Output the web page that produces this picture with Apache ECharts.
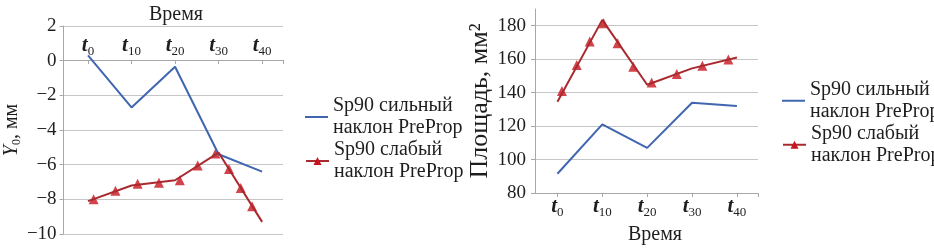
<!DOCTYPE html>
<html><head><meta charset="utf-8">
<script src="https://cdn.jsdelivr.net/npm/echarts@6/dist/echarts.min.js"></script>
<style>html,body{margin:0;padding:0;background:#fff}#c{width:934px;height:251px}</style>
</head><body><div id="c"></div>
<script>
// ---- data ----
const tickTimes = [0, 10, 20, 30, 40];
const tickLabels = ['0', '10', '20', '30', '40'];
const leftStrong = [0.3, -2.7, -0.35, -5.4, -6.4];
const leftWeakLine = [-8.1, -7.2, -6.9, -5.3, -9.3];
const leftMarkerTimes = [1.3, 6.3, 11.4, 16.3, 21.1, 25.2, 29.3, 32.4, 35.1, 37.7];
const leftMarkerValues = [-8.0, -7.5, -7.1, -7.05, -6.9, -6.05, -5.35, -6.25, -7.35, -8.4];
const rightStrong = [91.5, 121, 107, 134, 132];
const rightWeakLine = [134.5, 183.5, 144.7, 154.5, 161];
const rightMarkerTimes = [1.0, 4.3, 7.2, 10.3, 13.4, 16.9, 21.0, 26.6, 32.3, 38.1];
const rightMarkerValues = [141, 156.5, 170.5, 181.5, 169.5, 155.5, 146, 151.2, 156, 159.8];
const rightYTicks = [80, 100, 120, 140, 160, 180];
const nameStrong = 'Sp90 сильный наклон PreProp';
const nameWeak = 'Sp90 слабый наклон PreProp';
const xName = 'Время';
const leftYName = ['Y', '0', ', мм'];
const rightYName = 'Площадь, мм²';

// ---- styles ----
const FONT = "'Liberation Serif', 'Times New Roman', 'DejaVu Serif', serif";
const TXT = '#1e1e1e';
const BLUE = '#4166b0';
const RED_LINE = '#a92a2e';
const RED_MARK = '#c8141e';
const AXIS = '#a8a8a8';
const GRIDC = '#c6c6c6';

const pairs = (xs, ys) => xs.map((x, i) => [x, ys[i]]);
const serif = (size, extra) => Object.assign({ fontFamily: FONT, fontSize: size, color: TXT, fontWeight: 'normal' }, extra || {});
const tRich = {
  t: serif(21, { fontStyle: 'italic', fontWeight: 'bold', lineHeight: 22 }),
  s: serif(13, { lineHeight: 13, padding: [12, 0, 0, 0] })
};
const tFmt = v => '{t|t}{s|' + tickLabels[tickTimes.indexOf(v)] + '}';
const numFmt = v => '{a|' + String(v).replace('-', '\u2212') + '}';
const splitName = n => '{a|' + n.replace(' наклон', '}\n{a|наклон') + '}';

const chart = echarts.init(document.getElementById('c'), null, { renderer: 'canvas' });
chart.setOption({
  animation: false,
  backgroundColor: '#fff',
  textStyle: { fontFamily: FONT },
  title: [{
    text: '{a|' + xName + '}', left: 144, top: 0,
    textStyle: { rich: { a: serif(20) } }
  }],
  grid: [
    { left: 60, top: 26, width: 223, height: 208 },
    { left: 535, top: 9, width: 223, height: 184 }
  ],
  xAxis: [
    {
      // x axis drawn through y = 0 (grid bottom is y = -10, 174 px below zero)
      gridIndex: 0, type: 'value', min: -5.6, max: 44.8, position: 'bottom', offset: -174,
      axisLine: { show: true, onZero: false, lineStyle: { color: AXIS, width: 1 } },
      axisTick: { show: true, inside: false, length: 4, customValues: [0, 10, 20, 30, 40, 44.8], lineStyle: { color: AXIS } },
      axisLabel: { inside: true, margin: 3, customValues: tickTimes, formatter: tFmt, rich: tRich },
      splitLine: { show: false }
    },
    {
      gridIndex: 1, type: 'value', min: -5, max: 44.7,
      name: '{a|' + xName + '}', nameLocation: 'middle', nameGap: 31,
      nameTextStyle: { padding: [0, 0, 0, 17], rich: { a: serif(20) } },
      axisLine: { show: true, onZero: false, lineStyle: { color: AXIS, width: 1 } },
      axisTick: { show: true, length: 4, customValues: [0, 10, 20, 30, 40, 44.7], lineStyle: { color: AXIS } },
      axisLabel: { margin: 3, customValues: tickTimes, formatter: tFmt, rich: tRich },
      splitLine: { show: false }
    }
  ],
  yAxis: [
    {
      gridIndex: 0, type: 'value', min: -10, max: 2, interval: 2,
      name: '{i|' + leftYName[0] + '}{s|' + leftYName[1] + '}{n|' + leftYName[2] + '}',
      nameLocation: 'middle', nameGap: 35,
      nameTextStyle: {
        rich: {
          i: serif(20, { fontStyle: 'italic', lineHeight: 22 }),
          s: serif(12, { lineHeight: 12, padding: [10, 0, 0, 0] }),
          n: serif(20, { lineHeight: 22 })
        }
      },
      axisLine: { show: true, onZero: false, lineStyle: { color: AXIS, width: 1 } },
      axisTick: { show: true, length: 4, lineStyle: { color: AXIS } },
      axisLabel: { margin: 7, formatter: numFmt, rich: { a: serif(19) } },
      splitLine: { show: true, lineStyle: { color: GRIDC, width: 1 } }
    },
    {
      gridIndex: 1, type: 'value', min: 80, max: 190,
      name: '{a|' + rightYName + '}', nameLocation: 'middle', nameGap: 38,
      nameTextStyle: { rich: { a: serif(26) } },
      axisLine: { show: true, onZero: false, lineStyle: { color: AXIS, width: 1 } },
      axisTick: { show: true, length: 4, customValues: rightYTicks, lineStyle: { color: AXIS } },
      axisLabel: { margin: 9, customValues: rightYTicks, formatter: numFmt, rich: { a: serif(19) } },
      splitLine: { show: true, lineStyle: { color: GRIDC, width: 1 } }
    }
  ],
  legend: [
    {
      data: [{ name: nameStrong, icon: 'rect' }], left: 300, top: 91, orient: 'vertical',
      itemWidth: 23, itemHeight: 2, itemGap: 0, selectedMode: false,
      textStyle: { rich: { a: serif(20, { lineHeight: 22 }) } }, formatter: splitName
    },
    {
      data: [nameWeak], left: 300, top: 135, orient: 'vertical',
      itemWidth: 23, itemHeight: 10, itemGap: 0, selectedMode: false,
      textStyle: { rich: { a: serif(20, { lineHeight: 22 }) } }, formatter: splitName
    },
    {
      data: [{ name: nameStrong, icon: 'rect' }], left: 777, top: 75, orient: 'vertical',
      itemWidth: 23, itemHeight: 2, itemGap: 0, selectedMode: false,
      textStyle: { rich: { a: serif(20, { lineHeight: 21.5 }) } }, formatter: splitName
    },
    {
      data: [nameWeak], left: 777, top: 119, orient: 'vertical',
      itemWidth: 23, itemHeight: 10, itemGap: 0, selectedMode: false,
      textStyle: { rich: { a: serif(20, { lineHeight: 21.5 }) } }, formatter: splitName
    }
  ],
  series: [
    {
      name: nameStrong, type: 'line', xAxisIndex: 0, yAxisIndex: 0,
      data: pairs(tickTimes, leftStrong), symbol: 'none',
      lineStyle: { color: BLUE, width: 2 }, itemStyle: { color: BLUE }
    },
    {
      name: nameWeak, type: 'line', xAxisIndex: 0, yAxisIndex: 0,
      data: pairs(tickTimes, leftWeakLine), symbol: 'triangle', showSymbol: false,
      lineStyle: { color: RED_LINE, width: 2 }, itemStyle: { color: RED_MARK }
    },
    {
      name: nameWeak, type: 'scatter', xAxisIndex: 0, yAxisIndex: 0,
      data: pairs(leftMarkerTimes, leftMarkerValues), symbol: 'triangle', symbolSize: 10,
      itemStyle: { color: RED_MARK }
    },
    {
      name: nameStrong, type: 'line', xAxisIndex: 1, yAxisIndex: 1,
      data: pairs(tickTimes, rightStrong), symbol: 'none',
      lineStyle: { color: BLUE, width: 2 }, itemStyle: { color: BLUE }
    },
    {
      name: nameWeak, type: 'line', xAxisIndex: 1, yAxisIndex: 1,
      data: pairs(tickTimes, rightWeakLine), symbol: 'triangle', showSymbol: false,
      lineStyle: { color: RED_LINE, width: 2 }, itemStyle: { color: RED_MARK }
    },
    {
      name: nameWeak, type: 'scatter', xAxisIndex: 1, yAxisIndex: 1,
      data: pairs(rightMarkerTimes, rightMarkerValues), symbol: 'triangle', symbolSize: 10,
      itemStyle: { color: RED_MARK }
    }
  ]
});
</script>
</body></html>
